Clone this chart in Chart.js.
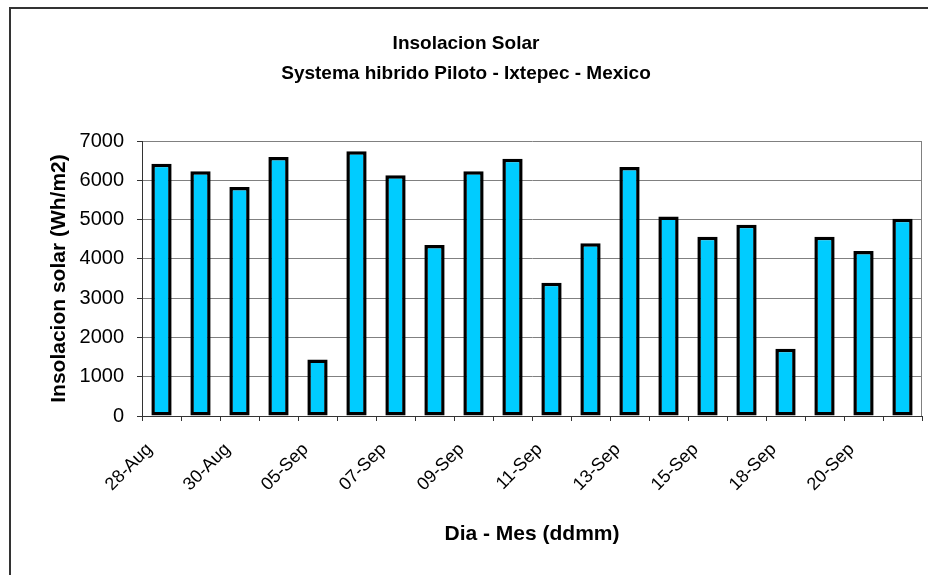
<!DOCTYPE html>
<html>
<head>
<meta charset="utf-8">
<title>Insolacion Solar</title>
<script src="https://cdn.jsdelivr.net/npm/chart.js@4/dist/chart.umd.min.js"></script>
<style>
  html, body { margin: 0; padding: 0; background: #ffffff; }
  #wrap { position: relative; width: 928px; height: 575px; }
</style>
</head>
<body>
<div id="wrap"><canvas id="chart" width="928" height="575"></canvas></div>
<script>
// Daily solar insolation, pilot hybrid system, Ixtepec
const dias = [
  '28-Aug', '29-Aug', '30-Aug', '31-Aug', '05-Sep', '06-Sep', '07-Sep', '08-Sep',
  '09-Sep', '10-Sep', '11-Sep', '12-Sep', '13-Sep', '14-Sep', '15-Sep', '16-Sep',
  '18-Sep', '19-Sep', '20-Sep', '21-Sep'
];
const insolacion = [
  6420, 6230, 5830, 6590, 1440, 6740, 6130, 4350,
  6230, 6550, 3390, 4400, 6340, 5080, 4560, 4870,
  1710, 4560, 4200, 5020
];
const yTicks = [0, 1000, 2000, 3000, 4000, 5000, 6000, 7000];
const tituloLineas = ['Insolacion Solar', 'Systema hibrido Piloto - Ixtepec - Mexico'];
const tituloX = 'Dia - Mes (ddmm)';
const tituloY = 'Insolacion solar (Wh/m2)';

const FONT = '"Liberation Sans", Arial, sans-serif';

// Outer chart frame and the grey plot-area border on the right
const marco = {
  id: 'marco',
  beforeDraw(chart) {
    const ctx = chart.ctx;
    ctx.save();
    ctx.fillStyle = '#ffffff';
    ctx.fillRect(0, 0, chart.width, chart.height);
    ctx.strokeStyle = '#333333';
    ctx.lineWidth = 2;
    ctx.beginPath();
    ctx.moveTo(10, chart.height + 5);
    ctx.lineTo(10, 8);
    ctx.lineTo(chart.width + 5, 8);
    ctx.stroke();
    ctx.restore();
  },
  beforeDatasetsDraw(chart) {
    const a = chart.chartArea;
    const ctx = chart.ctx;
    ctx.save();
    ctx.strokeStyle = '#808080';
    ctx.lineWidth = 1;
    ctx.beginPath();
    ctx.moveTo(Math.round(a.right) - 0.5, a.top);
    ctx.lineTo(Math.round(a.right) - 0.5, a.bottom);
    ctx.stroke();
    ctx.restore();
  }
};

new Chart(document.getElementById('chart'), {
  type: 'bar',
  data: {
    labels: dias,
    datasets: [{
      data: insolacion,
      backgroundColor: '#00CCFF',
      borderColor: '#000000',
      borderWidth: 3.5,
      borderSkipped: false,
      barPercentage: 0.52,
      categoryPercentage: 1.0
    }]
  },
  options: {
    responsive: false,
    animation: false,
    devicePixelRatio: 1,
    layout: { padding: { left: 10, right: 6, top: 0, bottom: 0 } },
    plugins: {
      legend: { display: false },
      tooltip: { enabled: false },
      title: {
        display: true,
        text: tituloLineas,
        color: '#000000',
        font: { family: FONT, size: 19, weight: 'bold', lineHeight: 30 / 19 },
        padding: { top: 29, bottom: 52 }
      }
    },
    scales: {
      x: {
        grid: {
          offset: true,
          drawOnChartArea: false,
          drawTicks: true,
          tickLength: 5,
          color: '#333333',
          tickColor: '#333333'
        },
        border: { display: true, color: '#333333', width: 1 },
        ticks: {
          autoSkip: false,
          minRotation: 45,
          maxRotation: 45,
          padding: 18,
          labelOffset: -12,
          color: '#000000',
          font: { family: FONT, size: 18 },
          callback: function (value, index) {
            return index % 2 === 0 ? dias[index] : '';
          }
        },
        title: {
          display: true,
          text: tituloX,
          color: '#000000',
          font: { family: FONT, size: 21, weight: 'bold', lineHeight: 24 / 21 },
          padding: { top: 0, bottom: 29 }
        },
        afterFit: function (scale) {
          scale.height = 159;
          scale.paddingLeft = 0;
          scale.paddingRight = 0;
        }
      },
      y: {
        min: 0,
        max: 7000,
        afterBuildTicks: function (scale) {
          scale.ticks = yTicks.map(v => ({ value: v }));
        },
        grid: {
          color: '#808080',
          lineWidth: 1,
          drawTicks: true,
          tickLength: 5,
          tickColor: '#333333'
        },
        border: { display: true, color: '#333333', width: 1 },
        ticks: {
          padding: 13,
          color: '#000000',
          font: { family: FONT, size: 20 },
          callback: function (value) { return String(value); }
        },
        title: {
          display: true,
          text: tituloY,
          color: '#000000',
          font: { family: FONT, size: 21, weight: 'bold', lineHeight: 24 / 21 },
          padding: { top: 37, bottom: 0 }
        },
        afterFit: function (scale) { scale.width = 132; }
      }
    }
  },
  plugins: [marco]
});
</script>
</body>
</html>
